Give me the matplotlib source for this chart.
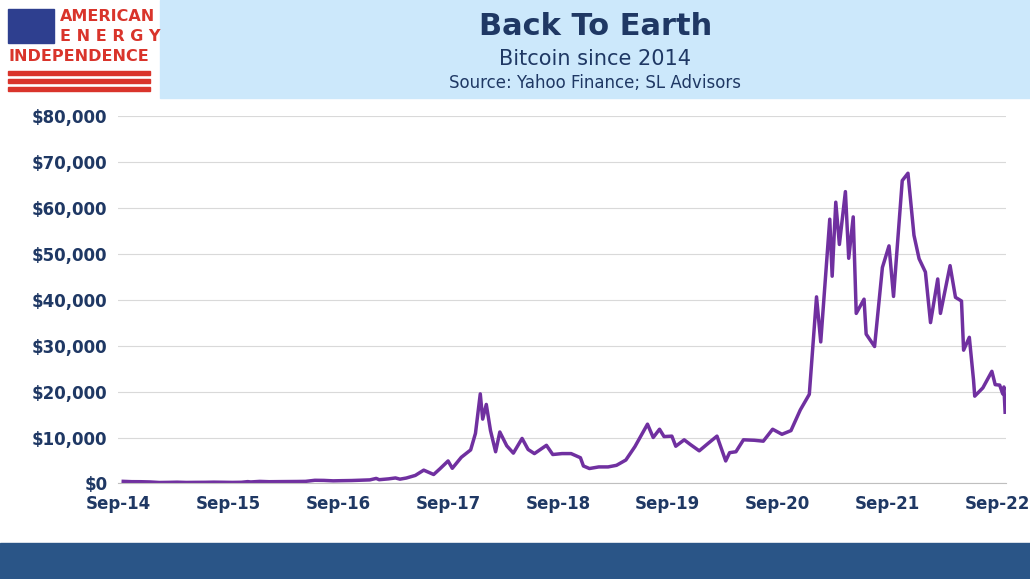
import matplotlib.pyplot as plt
import matplotlib.dates as mdates
import matplotlib.ticker as mticker
from matplotlib.patches import Rectangle
import pandas as pd

points = [
    ('2014-09-17', 460), ('2014-10-15', 390), ('2014-11-15', 380), ('2014-12-15', 330),
    ('2015-01-15', 210), ('2015-02-15', 240), ('2015-03-15', 280), ('2015-04-15', 220),
    ('2015-05-15', 240), ('2015-06-15', 250), ('2015-07-15', 285), ('2015-08-15', 260),
    ('2015-09-15', 230), ('2015-10-15', 260), ('2015-11-05', 400), ('2015-11-15', 330),
    ('2015-12-15', 450), ('2016-01-15', 380), ('2016-02-15', 400), ('2016-03-15', 415),
    ('2016-04-15', 430), ('2016-05-15', 455), ('2016-06-15', 690), ('2016-07-15', 665),
    ('2016-08-15', 570), ('2016-09-15', 610), ('2016-10-15', 640), ('2016-11-15', 710),
    ('2016-12-15', 780), ('2017-01-05', 1100), ('2017-01-15', 820), ('2017-02-15', 1000),
    ('2017-03-10', 1200), ('2017-03-25', 940), ('2017-04-15', 1180), ('2017-05-15', 1750),
    ('2017-06-12', 2900), ('2017-07-15', 1950), ('2017-08-05', 3200), ('2017-09-01', 4900),
    ('2017-09-15', 3300), ('2017-10-15', 5700), ('2017-11-15', 7300), ('2017-12-01', 10900),
    ('2017-12-17', 19500), ('2017-12-25', 14000), ('2018-01-06', 17200), ('2018-01-20', 11500),
    ('2018-02-06', 6900), ('2018-02-20', 11200), ('2018-03-15', 8200), ('2018-04-06', 6600),
    ('2018-05-05', 9800), ('2018-05-25', 7400), ('2018-06-15', 6500), ('2018-07-25', 8300),
    ('2018-08-15', 6300), ('2018-09-15', 6500), ('2018-10-15', 6500), ('2018-11-15', 5600),
    ('2018-11-25', 3800), ('2018-12-15', 3250), ('2019-01-15', 3600), ('2019-02-15', 3600),
    ('2019-03-15', 3950), ('2019-04-15', 5100), ('2019-05-15', 8000), ('2019-06-26', 12900),
    ('2019-07-15', 10000), ('2019-08-05', 11800), ('2019-08-20', 10200), ('2019-09-15', 10300),
    ('2019-09-28', 8100), ('2019-10-26', 9500), ('2019-11-15', 8500), ('2019-12-15', 7100),
    ('2020-01-15', 8800), ('2020-02-12', 10300), ('2020-03-12', 4900), ('2020-03-25', 6700),
    ('2020-04-15', 6900), ('2020-05-10', 9500), ('2020-06-15', 9400), ('2020-07-15', 9200),
    ('2020-08-15', 11800), ('2020-09-15', 10700), ('2020-10-15', 11500), ('2020-11-15', 16000),
    ('2020-12-15', 19400), ('2021-01-08', 40600), ('2021-01-22', 30800), ('2021-02-21', 57500),
    ('2021-03-01', 45100), ('2021-03-13', 61200), ('2021-03-25', 52000), ('2021-04-14', 63500),
    ('2021-04-25', 49000), ('2021-05-10', 58000), ('2021-05-20', 37000), ('2021-06-15', 40100),
    ('2021-06-22', 32500), ('2021-07-20', 29800), ('2021-08-15', 47000), ('2021-09-06', 51700),
    ('2021-09-21', 40700), ('2021-10-20', 65900), ('2021-11-08', 67500), ('2021-11-28', 54000),
    ('2021-12-15', 48900), ('2022-01-05', 46000), ('2022-01-22', 35000), ('2022-02-15', 44500),
    ('2022-02-24', 37000), ('2022-03-28', 47400), ('2022-04-15', 40500), ('2022-05-05', 39700),
    ('2022-05-12', 29000), ('2022-05-31', 31800), ('2022-06-14', 22500), ('2022-06-18', 19000),
    ('2022-07-15', 20800), ('2022-08-14', 24400), ('2022-08-25', 21500), ('2022-09-09', 21400),
    ('2022-09-19', 19500), ('2022-09-23', 21000), ('2022-09-27', 15500),
]
df = pd.DataFrame(points, columns=['date', 'price'])
df['date'] = pd.to_datetime(df['date'])

navy = '#1f3864'
fig = plt.figure(figsize=(10.30, 5.79), dpi=100)
ax = fig.add_axes([0.115, 0.165, 0.862, 0.635])

ax.plot(df['date'], df['price'], color='#7030a0', linewidth=2.5)

ax.set_ylim(0, 80000)
ax.set_xlim(pd.Timestamp('2014-09-01'), pd.Timestamp('2022-10-01'))
ax.yaxis.set_major_locator(mticker.MultipleLocator(10000))
ax.yaxis.set_major_formatter(mticker.FuncFormatter(lambda v, p: f'${v:,.0f}'))
ax.xaxis.set_major_locator(mdates.MonthLocator(bymonth=9, bymonthday=1))
ax.xaxis.set_major_formatter(mdates.DateFormatter('%b-%y'))
ax.grid(axis='y', color='#d9d9d9', linewidth=0.8)
ax.set_axisbelow(True)
for s in ['top', 'right', 'left']:
    ax.spines[s].set_visible(False)
ax.spines['bottom'].set_color('#bfbfbf')
ax.tick_params(length=0, labelsize=12, labelcolor=navy, pad=8)
for t in ax.get_xticklabels() + ax.get_yticklabels():
    t.set_fontweight('bold')

# title banner
fig.patches.append(Rectangle((0.155, 0.83), 0.845, 0.17, transform=fig.transFigure,
                             color='#cce8fb', zorder=0))
fig.text(0.578, 0.955, 'Back To Earth', ha='center', va='center', fontsize=22,
         fontweight='bold', color=navy)
fig.text(0.578, 0.898, 'Bitcoin since 2014', ha='center', va='center', fontsize=15, color=navy)
fig.text(0.578, 0.856, 'Source: Yahoo Finance; SL Advisors', ha='center', va='center',
         fontsize=12, color=navy)

# logo
fig.patches.append(Rectangle((0.008, 0.925), 0.044, 0.06, transform=fig.transFigure,
                             color='#2e3f8f', zorder=1))
for i in range(3):
    fig.patches.append(Rectangle((0.008, 0.843 + i * 0.014), 0.138, 0.007,
                                 transform=fig.transFigure, color='#d9342b', zorder=1))
fig.text(0.058, 0.972, 'AMERICAN', fontsize=11.5, fontweight='bold', color='#d9342b', va='center')
fig.text(0.058, 0.937, 'E N E R G Y', fontsize=11.5, fontweight='bold', color='#d9342b', va='center')
fig.text(0.008, 0.902, 'INDEPENDENCE', fontsize=11.5, fontweight='bold', color='#d9342b', va='center')

# footer band
fig.patches.append(Rectangle((0, 0), 1, 0.062, transform=fig.transFigure, color='#2a5587'))

fig.savefig('out.png', dpi=100)
